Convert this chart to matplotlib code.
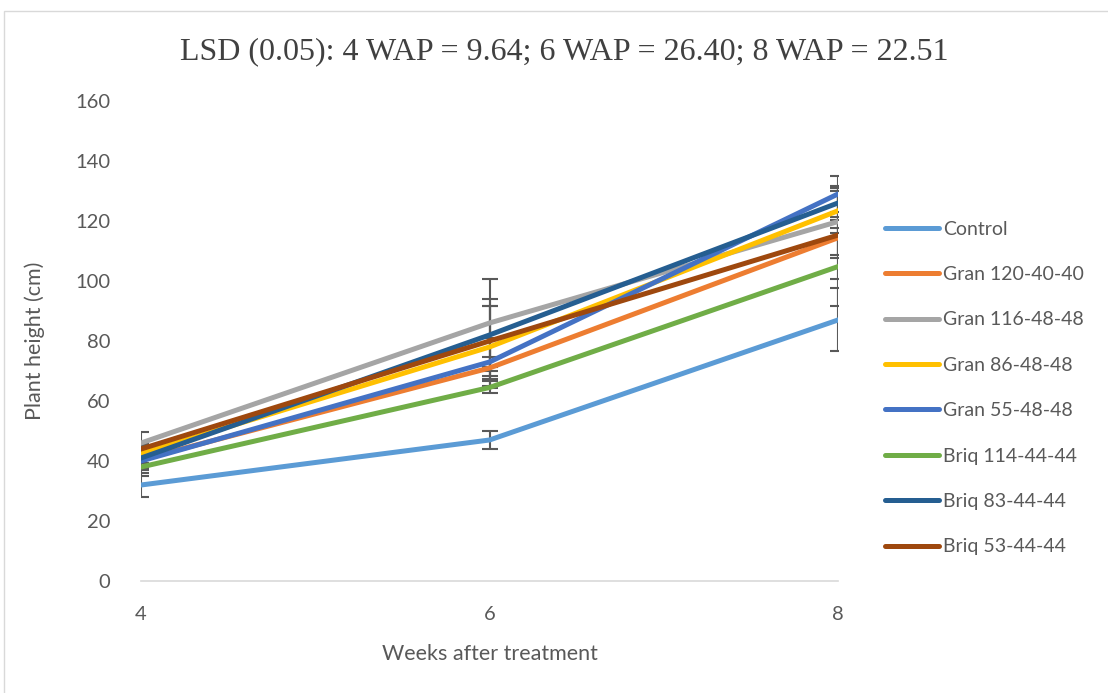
import numpy as np
import matplotlib.pyplot as plt
from matplotlib.lines import Line2D

# weeks after treatment
weeks = [4, 6, 8]

series_names = [
    "Control", "Gran 120-40-40", "Gran 116-48-48", "Gran 86-48-48",
    "Gran 55-48-48", "Briq 114-44-44", "Briq 83-44-44", "Briq 53-44-44",
]
colors = ["#5B9BD5", "#ED7D31", "#A5A5A5", "#FFC000",
          "#4472C4", "#70AD47", "#255E91", "#9E480E"]

# plant height (cm)
control = [32, 47, 87]
gran_120 = [40.5, 71, 114.4]
gran_116 = [46, 86, 119.8]
gran_86 = [42.5, 78, 123.4]
gran_55 = [40, 73, 129]
briq_114 = [38, 64.5, 104.8]
briq_83 = [41, 82, 126]
briq_53 = [44, 80, 115.3]
heights = [control, gran_120, gran_116, gran_86, gran_55, briq_114, briq_83, briq_53]

# error bar half-widths (estimated)
err_control = [4, 3, 10.5]
err_gran_120 = [3, 3.7, 6.8]
err_gran_116 = [3.7, 14.7, 11.1]
err_gran_86 = [3, 13.7, 7.5]
err_gran_55 = [3, 8, 5.9]
err_briq_114 = [3, 2, 13]
err_briq_83 = [3, 12, 5.8]
err_briq_53 = [1.3, 11.7, 14.7]
errors = [err_control, err_gran_120, err_gran_116, err_gran_86,
          err_gran_55, err_briq_114, err_briq_83, err_briq_53]

fig = plt.figure(figsize=(11.08, 6.93), dpi=100)
ax = fig.add_axes([0.1273, 0.1616, 0.629, 0.6927])

# chart area border
fig.patches.append(plt.Rectangle((0.004, -0.02), 1.2, 1.0 - 0.016 + 0.02,
                                 transform=fig.transFigure, fill=False,
                                 edgecolor="#d9d9d9", linewidth=1.0))

handles = []
for name, col, h, e in zip(series_names, colors, heights, errors):
    ax.errorbar(weeks, h, yerr=e, color=col, linewidth=3.6,
                ecolor="#595959", elinewidth=1.5, capsize=6, capthick=1.5)
    handles.append(Line2D([], [], color=col, linewidth=3.6,
                          solid_capstyle="round", label=name))

ax.set_xlim(4, 8)
ax.set_ylim(0, 160)
ax.set_xticks(weeks)
ax.set_yticks(np.arange(0, 161, 20))
for s in ["top", "right", "left"]:
    ax.spines[s].set_visible(False)
ax.spines["bottom"].set_color("#d9d9d9")
ax.spines["bottom"].set_linewidth(1.2)
ax.tick_params(length=0, labelsize=14.5, colors="#595959")
ax.tick_params(axis="x", pad=18)
ax.tick_params(axis="y", pad=22)
for lbl in ax.get_xticklabels() + ax.get_yticklabels():
    lbl.set_family("Lato")

ax.set_xlabel("Weeks after treatment", fontsize=15.5, color="#595959",
              family="Lato", labelpad=15)
ax.set_ylabel("Plant height (cm)", fontsize=15.5, color="#595959",
              family="Lato", labelpad=22)

fig.text(0.509, 0.925, "LSD (0.05): 4 WAP = 9.64; 6 WAP = 26.40; 8 WAP = 22.51",
         ha="center", va="center", fontsize=23, color="#404040",
         family="Liberation Serif")

leg = ax.legend(handles=handles, loc="upper left", bbox_to_anchor=(1.056, 0.767),
                frameon=False, fontsize=14, handlelength=2.8, handletextpad=0.2,
                labelspacing=1.46, borderaxespad=0)
for t in leg.get_texts():
    t.set_color("#595959")
    t.set_family("Lato")

fig.savefig("out.png", dpi=100)
